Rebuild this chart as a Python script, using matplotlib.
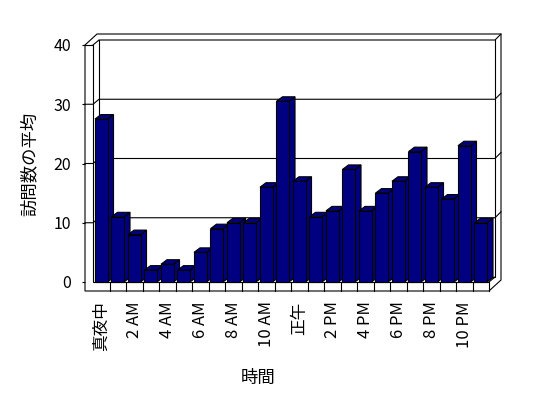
import matplotlib
matplotlib.use("Agg")
import matplotlib.pyplot as plt
from matplotlib.patches import Polygon, Rectangle

plt.rcParams['font.family'] = ['Noto Sans CJK JP', 'DejaVu Sans']

# data
hours = list(range(24))
visits = [27.5, 11, 8, 2, 3, 2, 5, 9, 10, 10, 16, 30.5,
          17, 11, 12, 19, 12, 15, 17, 22, 16, 14, 23, 10]
tick_pos = list(range(0, 24, 2))
tick_labels = ['真夜中', '2 AM', '4 AM', '6 AM', '8 AM', '10 AM',
               '正午', '2 PM', '4 PM', '6 PM', '8 PM', '10 PM']
y_ticks = [0, 10, 20, 30, 40]

W, H = 548, 398
fig = plt.figure(figsize=(W / 100, H / 100), dpi=100)
# front plane of the box (pixels x 93..489, y 45..282)
ax = fig.add_axes([93 / W, 1 - 282 / H, 396 / W, 237 / H])
x0, x1 = -0.5, 23.5
y0, y1 = 0, 40
ax.set_xlim(x0, x1)
ax.set_ylim(y0, y1)

# pixel sizes -> data units
sx = (x1 - x0) / 396
sy = (y1 - y0) / 237
d1 = (6 * sx, 5 * sy)        # front -> back wall
d2 = (12 * sx, 11 * sy)      # front -> back of wall slab
db = (6 * sx, 4.5 * sy)      # bar depth
tw = 8 * sx                  # left wall thickness
tf = 9 * sy                  # floor thickness
lw = 0.8
navy = '#000080'


def line(pts, z=2):
    xs, ys = zip(*pts)
    ax.plot(xs, ys, color='black', lw=lw, clip_on=False, zorder=z,
            solid_joinstyle='miter')


# outer box
outer = [(x0 - tw, y1), (x0 - tw, y0 - tf), (x1, y0 - tf),
         (x1 + d2[0], y0 - tf + d2[1]), (x1 + d2[0], y1 + d2[1]),
         (x0 - tw + d2[0], y1 + d2[1])]
ax.add_patch(Polygon(outer, closed=True, facecolor='white', edgecolor='black',
                     lw=lw, clip_on=False, zorder=1))

# back wall
line([(x0 + d1[0], y1 + d1[1]), (x0 + d1[0], y0 + d1[1]),
      (x1 + d1[0], y0 + d1[1]), (x1 + d1[0], y1 + d1[1])])
line([(x0, y1), (x0 + d1[0], y1 + d1[1]), (x1 + d1[0], y1 + d1[1]),
      (x1 + d2[0], y1 + d2[1])])
# left wall / floor front faces
line([(x0 - tw, y1), (x0, y1), (x0, y0), (x1, y0), (x1, y0 - tf)])
line([(x1, y0), (x1 + d1[0], y0 + d1[1])])
for k in range(1, 24):
    line([(x0 + k, y0), (x0 + k, y0 - tf)])

# gridlines
for v in y_ticks[1:-1]:
    line([(x0 - tw, v), (x0, v), (x0 + d1[0], v + d1[1]),
          (x1 + d1[0], v + d1[1]), (x1 + d2[0], v + d2[1])])

# bars
bw = 0.76
for i, (h, v) in enumerate(zip(hours, visits)):
    z = 3 + i
    l, r = h - bw / 2, h + bw / 2
    side = [(r, 0), (r, v), (r + db[0], v + db[1]), (r + db[0], db[1])]
    top = [(l, v), (r, v), (r + db[0], v + db[1]), (l + db[0], v + db[1])]
    for face in (side, top):
        ax.add_patch(Polygon(face, closed=True, facecolor=navy,
                             edgecolor='black', lw=lw, zorder=z, clip_on=False))
    ax.add_patch(Rectangle((l, 0), bw, v, facecolor=navy, edgecolor='black',
                           lw=lw, zorder=z, clip_on=False))

# axes
ax.patch.set_visible(False)
for s in ax.spines.values():
    s.set_visible(False)
ax.spines['left'].set_position(('data', x0 - tw))
ax.set_yticks(y_ticks)
ax.set_yticklabels([str(t) for t in y_ticks], fontsize=11.5)
ax.tick_params(axis='y', length=2.2, width=lw, direction='out', pad=8)
ax.set_xticks(tick_pos)
ax.set_xticklabels(tick_labels, rotation=90, fontsize=12)
ax.tick_params(axis='x', length=0, pad=14)

ax.set_ylabel('訪問数の平均', fontsize=12.5)
ax.yaxis.set_label_coords((39 - 93) / 396, 0.5)
ax.set_xlabel('時間', fontsize=12.5)
ax.xaxis.set_label_coords((258 - 93) / 396, (282 - 369) / 237)

fig.savefig('out.png', dpi=100)
